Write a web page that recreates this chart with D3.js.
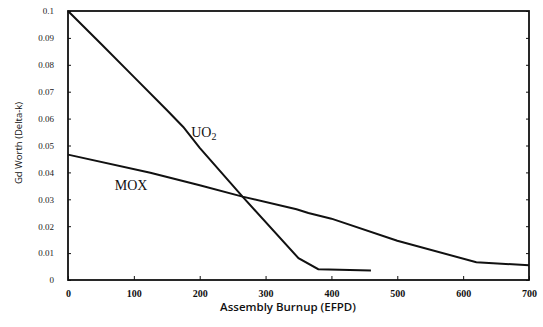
<!DOCTYPE html>
<html>
<head>
<meta charset="utf-8">
<script src="https://cdn.jsdelivr.net/npm/d3@7"></script>
<style>
  body { margin: 0; background: #fff; }
  svg { display: block; }
</style>
</head>
<body>
<div id="chart"></div>
<script>
// burnup (EFPD) vs Gd worth (delta-k)
const uo2Burnup = [0, 50, 100, 150, 175, 200, 265, 350, 380, 460];
const uo2Worth = [0.1, 0.0878, 0.0755, 0.0632, 0.0569, 0.0491, 0.031, 0.0081, 0.004, 0.0035];

const moxBurnup = [0, 125, 200, 265, 347, 365, 400, 500, 620, 700];
const moxWorth = [0.0466, 0.0399, 0.0352, 0.031, 0.0263, 0.0249, 0.0228, 0.0146, 0.0066, 0.0055];

const xTicks = [0, 100, 200, 300, 400, 500, 600, 700];
const yTicks = [0, 0.01, 0.02, 0.03, 0.04, 0.05, 0.06, 0.07, 0.08, 0.09, 0.1];

const W = 543, H = 327;
const margin = { top: 11, right: 14, bottom: 47, left: 68 };
const width = W - margin.left - margin.right;
const height = H - margin.top - margin.bottom;

const svg = d3.select('#chart')
    .append('svg')
    .attr('width', W)
    .attr('height', H);

const g = svg.append('g')
    .attr('transform', `translate(${margin.left},${margin.top})`);

const x = d3.scaleLinear().domain([0, 700]).range([0, width]);
const y = d3.scaleLinear().domain([0, 0.1]).range([height, 0]);

// frame
g.append('rect')
    .attr('width', width)
    .attr('height', height)
    .attr('fill', 'none')
    .attr('stroke', '#111')
    .attr('stroke-width', 1.8);

// x axis, ticks point inward
const xAxis = g.append('g')
    .attr('transform', `translate(0,${height})`)
    .call(d3.axisBottom(x).tickValues(xTicks).tickSize(-4).tickPadding(10).tickFormat(d3.format('d')));
xAxis.select('.domain').remove();
xAxis.selectAll('line').attr('stroke', '#111');
xAxis.selectAll('text')
    .style('font-family', '"Liberation Serif", "DejaVu Serif", serif')
    .style('font-size', '10px')
    .style('font-weight', 'bold')
    .attr('fill', '#111');

const yAxis = g.append('g')
    .call(d3.axisLeft(y).tickValues(yTicks).tickSize(-3).tickPadding(14)
        .tickFormat(d => d === 0 ? '0' : d3.format('.2~f')(d)));
yAxis.select('.domain').remove();
yAxis.selectAll('line').attr('stroke', '#111');
yAxis.selectAll('text')
    .style('font-family', '"Liberation Serif", "DejaVu Serif", serif')
    .style('font-size', '9px')
    .attr('fill', '#222');

// right side ticks
const yRight = g.append('g')
    .attr('transform', `translate(${width},0)`)
    .call(d3.axisRight(y).tickValues(yTicks).tickSize(-3).tickFormat(''));
yRight.select('.domain').remove();
yRight.selectAll('line').attr('stroke', '#111');

const line = d3.line()
    .x(d => x(d[0]))
    .y(d => y(d[1]));

g.append('path')
    .datum(d3.zip(uo2Burnup, uo2Worth))
    .attr('fill', 'none')
    .attr('stroke', '#111')
    .attr('stroke-width', 2)
    .attr('d', line);

g.append('path')
    .datum(d3.zip(moxBurnup, moxWorth))
    .attr('fill', 'none')
    .attr('stroke', '#111')
    .attr('stroke-width', 2)
    .attr('d', line);

// series labels
const uo2Label = g.append('text')
    .attr('x', x(187))
    .attr('y', y(0.0531))
    .style('font-family', '"Liberation Serif", "DejaVu Serif", serif')
    .style('font-size', '14px')
    .attr('fill', '#111')
    .text('UO');
uo2Label.append('tspan')
    .attr('dy', 3)
    .style('font-size', '10px')
    .text('2');

g.append('text')
    .attr('x', x(71))
    .attr('y', y(0.0334))
    .style('font-family', '"Liberation Serif", "DejaVu Serif", serif')
    .style('font-size', '14px')
    .attr('fill', '#111')
    .text('MOX');

// axis titles
svg.append('text')
    .attr('x', 288)
    .attr('y', 311)
    .attr('text-anchor', 'middle')
    .style('font-family', '"Open Sans", "DejaVu Sans", sans-serif')
    .style('font-size', '11.5px')
    .style('font-weight', '600')
    .attr('fill', '#111')
    .text('Assembly Burnup (EFPD)');

svg.append('text')
    .attr('transform', 'translate(22,143) rotate(-90)')
    .attr('text-anchor', 'middle')
    .style('font-family', '"Open Sans", "DejaVu Sans", sans-serif')
    .style('font-size', '9.5px')
    .attr('fill', '#111')
    .text('Gd Worth (Delta-k)');
</script>
</body>
</html>
